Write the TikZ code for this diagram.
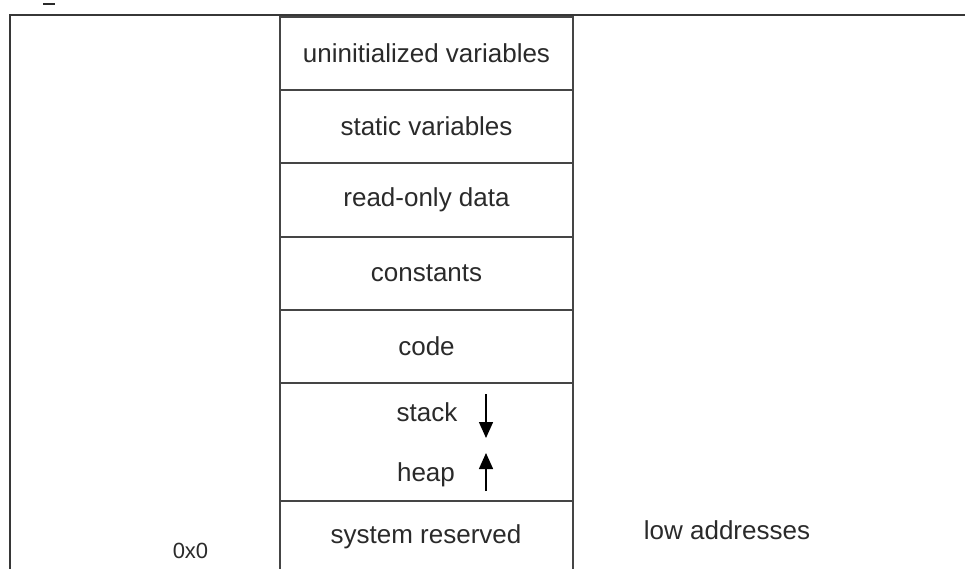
\documentclass[tikz,border=0pt]{standalone}
\usepackage{fontspec}
\setmainfont{Liberation Sans}
\usetikzlibrary{arrows.meta}
\definecolor{linegray}{HTML}{454545}
\definecolor{textgray}{HTML}{2A2A2A}
\tikzset{
  cell/.style={draw=linegray, line width=2.4pt, minimum width=293pt, inner sep=0pt,
    text=textgray, font=\fontsize{26}{30}\selectfont},
  lbl/.style={inner sep=0pt, text=textgray, font=\fontsize{26}{30}\selectfont},
  growarrow/.style={draw=black, line width=1.5pt, -{Triangle[length=16pt,width=14pt]}},
}
\begin{document}
\begin{tikzpicture}[x=1pt,y=-1pt]
\useasboundingbox (0,0) rectangle (965,568);
\begin{scope}
\clip (0,0) rectangle (965,568);
% outer frame
\coordinate (frameBL) at (10,575);
\coordinate (frameTL) at (10,15);
\coordinate (frameTR) at (970,15);
\draw[draw=linegray!80!black, line width=2.6pt] (frameBL) -- (frameTL) -- (frameTR);
% clipped caption mark
\coordinate (markA) at (43,4);
\coordinate (markB) at (55,4);
\draw[draw=textgray, line width=1.5pt] (markA) -- (markB);
% cells
\node[cell, minimum height=73pt]  (uninit) at (426.5,53.5) {uninitialized variables};
\node[cell, minimum height=73pt]  (static) at (426.5,126.5) {static variables};
\node[cell, minimum height=74pt]  (rodata) at (426.5,200) {read-only data};
\node[cell, minimum height=73pt]  (const)  at (426.5,273.5) {constants};
\node[cell, minimum height=73pt]  (code)   at (426.5,346.5) {code};
\node[cell, minimum height=118pt] (stackheap) at (426.5,442) {};
\node[cell, minimum height=76pt]  (sysres) at (426.5,539) {};
\node[lbl] (sysreslbl) at (426,537) {system reserved};
% stack / heap
\node[lbl] (stack) at (427,412) {stack};
\node[lbl] (heap)  at (426,475) {heap};
\coordinate (stackA) at (486,394);
\coordinate (stackB) at (486,438);
\coordinate (heapA) at (486,491);
\coordinate (heapB) at (486,453);
\draw[growarrow] (stackA) -- (stackB);
\draw[growarrow] (heapA) -- (heapB);
% side labels
\node[lbl] (low) at (727,530) {low addresses};
\node[lbl, font=\fontsize{22}{26}\selectfont] (zero) at (190.5,551) {0x0};
\end{scope}
\end{tikzpicture}
\end{document}
